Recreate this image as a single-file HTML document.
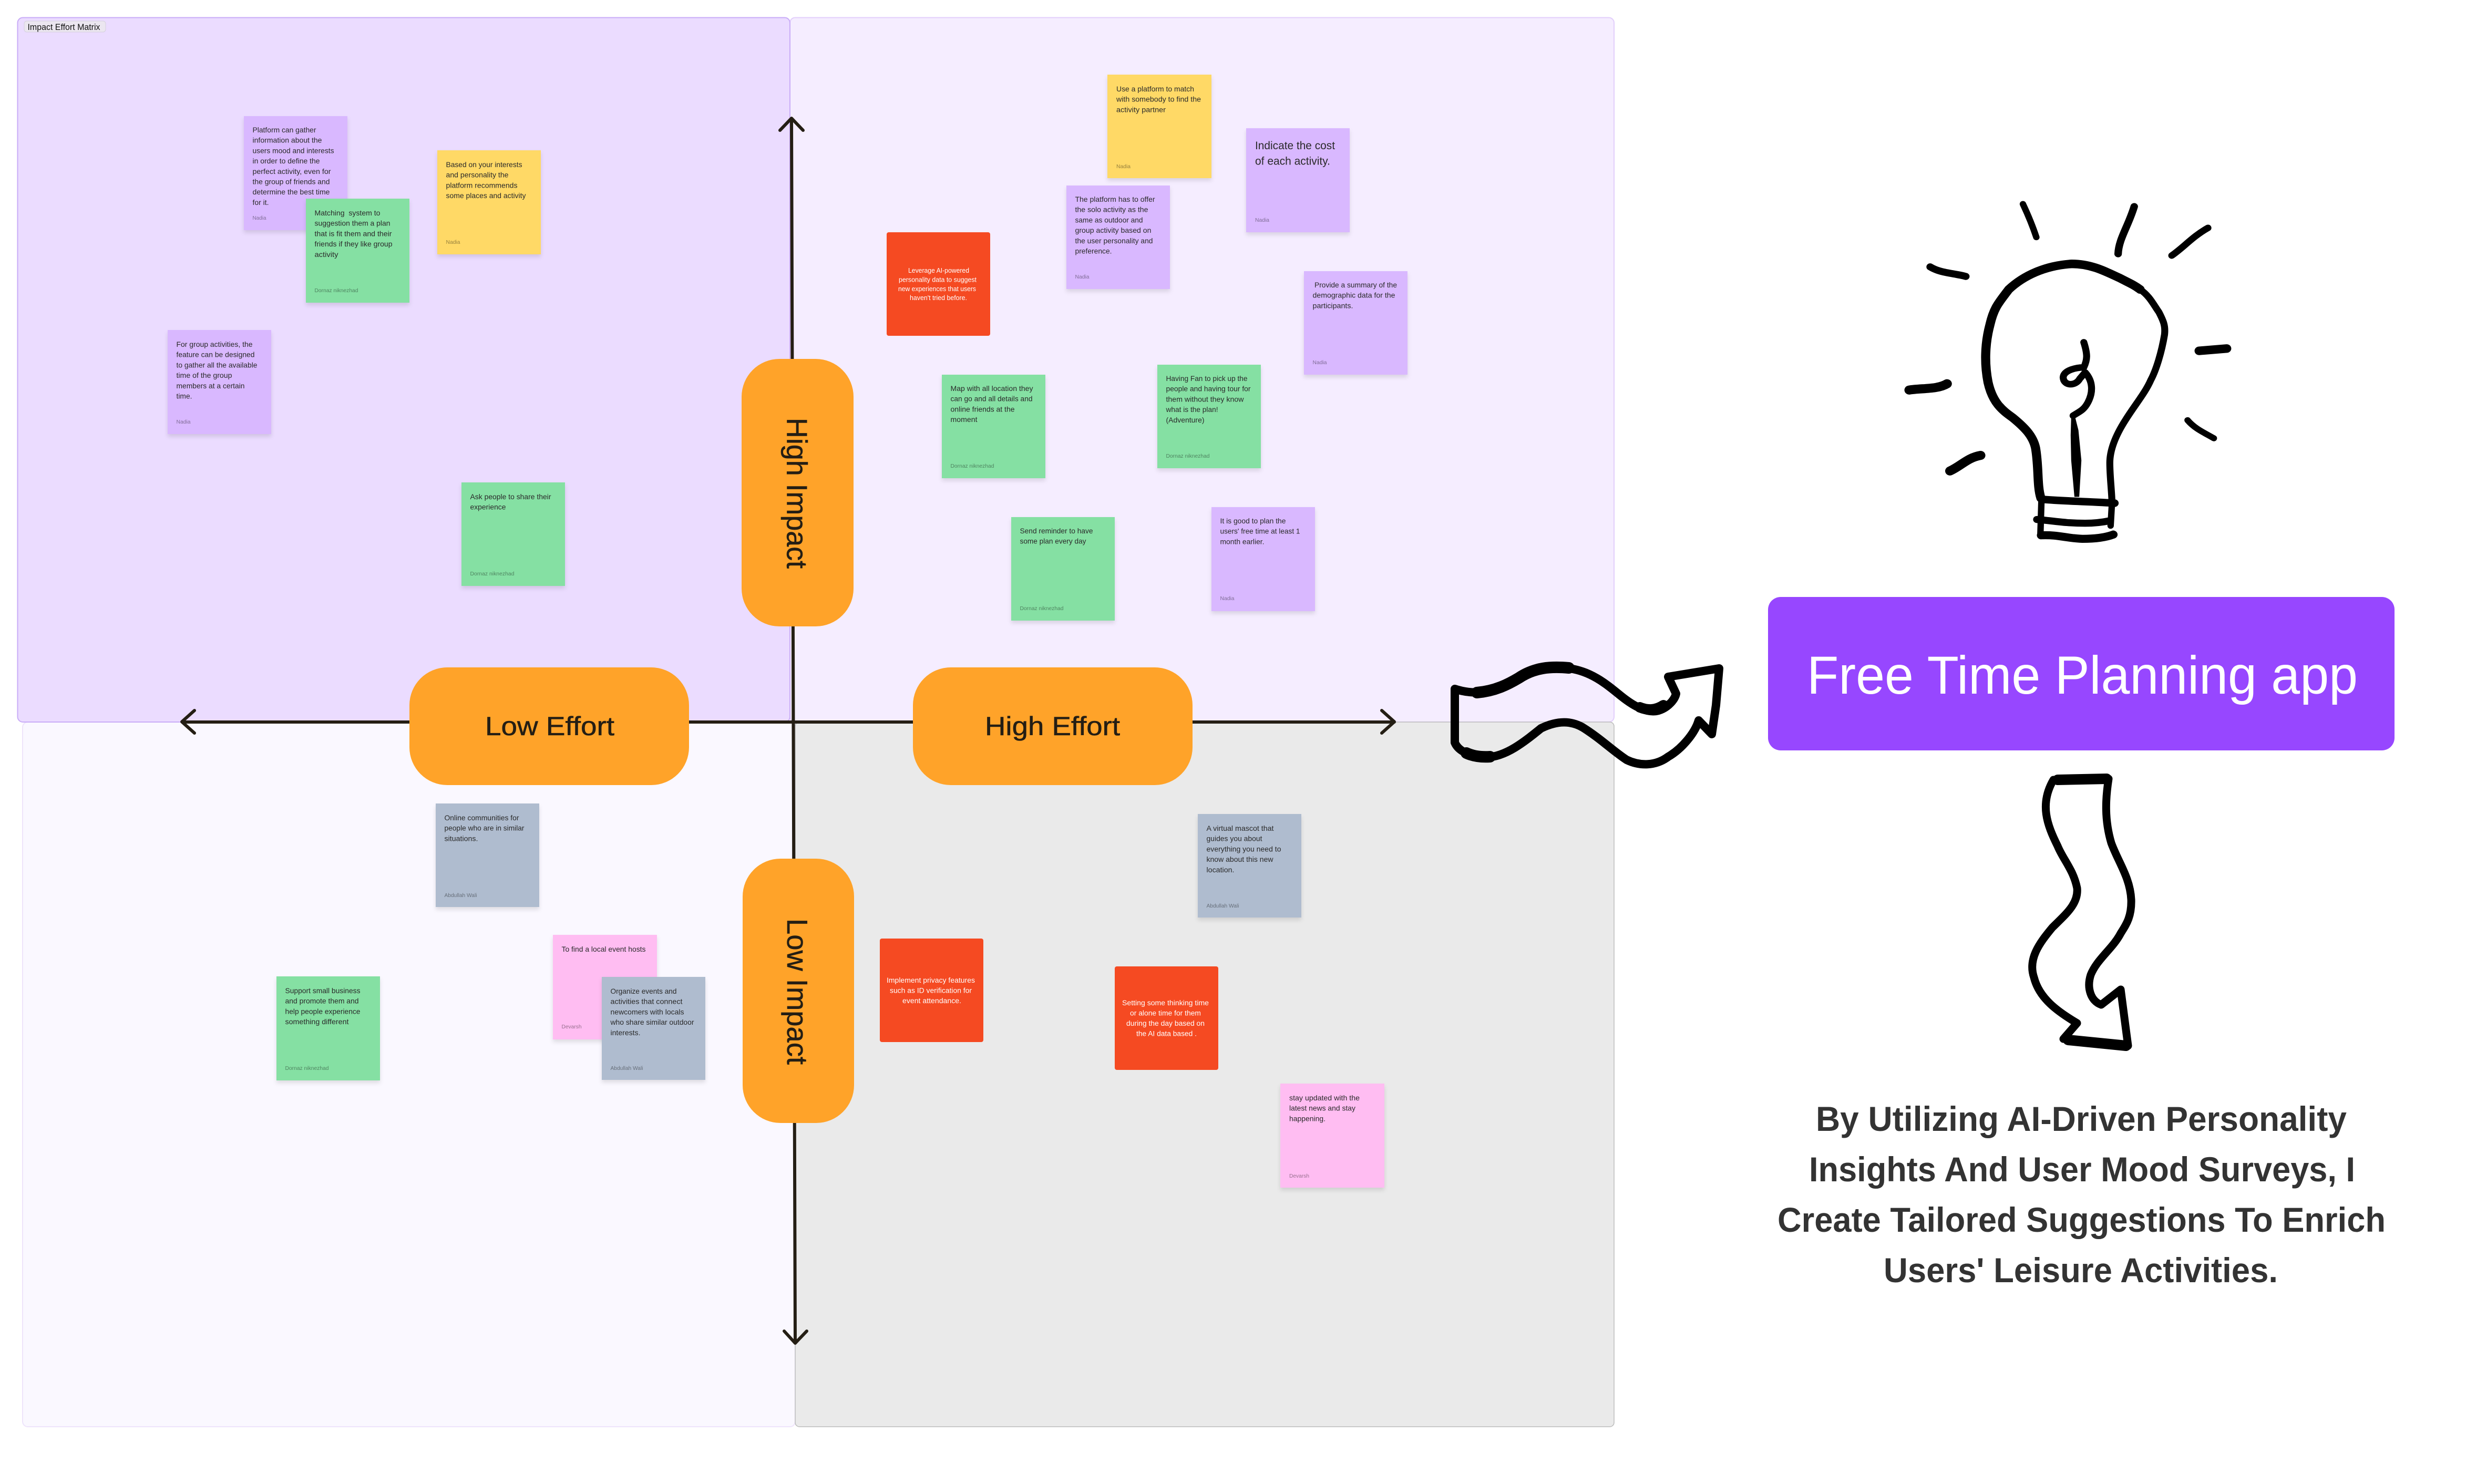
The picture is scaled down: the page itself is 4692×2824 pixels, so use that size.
<!DOCTYPE html>
<html><head><meta charset="utf-8"><style>
html,body{margin:0;padding:0;background:#fff}
svg{display:block}
text{font-family:"Liberation Sans",Arial,sans-serif}
.n{font-size:14px;fill:#2a2a2a}
.a{font-size:10.5px;fill:#000;fill-opacity:.42}
.c{font-size:12.5px;fill:#fff}
.s{filter:drop-shadow(0 5px 4px rgba(0,0,0,.11))}
.p{fill:#ffa329}
.l{font-size:50px;fill:#241e14;stroke:#241e14;stroke-width:.6px}
.h{fill:none;stroke:#000;stroke-linecap:round;stroke-linejoin:round}
.b{font-size:66px;font-weight:700;fill:#333}
</style></head><body>
<svg xmlns="http://www.w3.org/2000/svg" width="4692" height="2824" viewBox="0 0 4692 2824">
<rect width="4692" height="2824" fill="#fff"/>
<rect x="1503" y="33.5" width="1568" height="1340.5" rx="10" fill="#f5edff" stroke="#e2cffb" stroke-width="2"/>
<rect x="43" y="1374" width="1470" height="1341" rx="10" fill="#faf8ff" stroke="#eee4fb" stroke-width="2"/>
<rect x="1513" y="1374" width="1558" height="1341" rx="8" fill="#eaeaea" stroke="#bcbcbc" stroke-width="1.5"/>
<rect x="33.500" y="33.500" width="1469.500" height="1340.500" rx="10" fill="#ebdcff" stroke="#c9acf7" stroke-width="2"/>
<rect x="46" y="40" width="155" height="21" rx="5" fill="#ebe6f0" stroke="#d5d0dd"/>
<text x="52.500" y="57" font-size="17" fill="#111" textLength="138" lengthAdjust="spacingAndGlyphs">Impact Effort Matrix</text>

<!-- axes -->
<g fill="none" stroke="#241e14" stroke-width="6" stroke-linecap="round" stroke-linejoin="round">
<path d="M347,1374H2653M370,1352L346,1373.500L370,1395M2629,1352L2653,1373.500L2629,1395"/>
<path d="M1506,225L1513,2555M1484,248L1506,225L1528,248M1492,2533L1513,2556L1535,2533"/>
</g>

<!-- pills -->
<rect class="p" x="1411" y="683" width="213" height="509" rx="72"/>
<rect class="p" x="1413" y="1634" width="212" height="503" rx="72"/>
<rect class="p" x="779" y="1270" width="532" height="224" rx="72"/>
<rect class="p" x="1737" y="1270" width="532" height="224" rx="72"/>
<text class="l" x="923" y="1399" textLength="246" lengthAdjust="spacingAndGlyphs">Low Effort</text>
<text class="l" x="1874" y="1399" textLength="257" lengthAdjust="spacingAndGlyphs">High Effort</text>
<text class="l" style="font-size:55px" transform="translate(1497.500,795) rotate(90)" textLength="287" lengthAdjust="spacingAndGlyphs">High Impact</text>
<text class="l" style="font-size:55px" transform="translate(1498,1748) rotate(90)" textLength="278" lengthAdjust="spacingAndGlyphs">Low Impact</text>

<!-- TL notes -->
<g transform="translate(464,221)"><rect class="s" width="197" height="217" fill="#d9b8ff"/>
<text class="n" x="16.500" y="31" textLength="121" lengthAdjust="spacingAndGlyphs">Platform can gather</text>
<text class="n" x="16.500" y="50.700" textLength="132" lengthAdjust="spacingAndGlyphs">information about the</text>
<text class="n" x="16.500" y="70.400" textLength="155" lengthAdjust="spacingAndGlyphs">users mood and interests</text>
<text class="n" x="16.500" y="90.100" textLength="128" lengthAdjust="spacingAndGlyphs">in order to define the</text>
<text class="n" x="16.500" y="109.800" textLength="149" lengthAdjust="spacingAndGlyphs">perfect activity, even for</text>
<text class="n" x="16.500" y="129.500" textLength="147" lengthAdjust="spacingAndGlyphs">the group of friends and</text>
<text class="n" x="16.500" y="149.200" textLength="147" lengthAdjust="spacingAndGlyphs">determine the best time</text>
<text class="n" x="16.500" y="168.900" textLength="31" lengthAdjust="spacingAndGlyphs">for it.</text>
<text class="a" x="16.500" y="197" textLength="26" lengthAdjust="spacingAndGlyphs">Nadia</text></g>

<g transform="translate(582,378)"><rect class="s" width="197" height="198" fill="#85e0a3"/>
<text class="n" x="16.500" y="32" textLength="125" lengthAdjust="spacingAndGlyphs" xml:space="preserve">Matching  system to</text>
<text class="n" x="16.500" y="51.700" textLength="144" lengthAdjust="spacingAndGlyphs">suggestion them a plan</text>
<text class="n" x="16.500" y="71.400" textLength="147" lengthAdjust="spacingAndGlyphs">that is fit them and their</text>
<text class="n" x="16.500" y="91.100" textLength="148" lengthAdjust="spacingAndGlyphs">friends if they like group</text>
<text class="n" x="16.500" y="110.800" textLength="45" lengthAdjust="spacingAndGlyphs">activity</text>
<text class="a" x="16.500" y="178" textLength="83" lengthAdjust="spacingAndGlyphs">Dornaz niknezhad</text></g>

<g transform="translate(832,286)"><rect class="s" width="197" height="198" fill="#ffd966"/>
<text class="n" x="16.500" y="32" textLength="145" lengthAdjust="spacingAndGlyphs">Based on your interests</text>
<text class="n" x="16.500" y="51.700" textLength="119" lengthAdjust="spacingAndGlyphs">and personality the</text>
<text class="n" x="16.500" y="71.400" textLength="136" lengthAdjust="spacingAndGlyphs">platform recommends</text>
<text class="n" x="16.500" y="91.100" textLength="152" lengthAdjust="spacingAndGlyphs">some places and activity</text>
<text class="a" x="16.500" y="178" textLength="27" lengthAdjust="spacingAndGlyphs">Nadia</text></g>

<g transform="translate(319,628)"><rect class="s" width="197" height="198" fill="#d9b8ff"/>
<text class="n" x="16.500" y="32" textLength="145" lengthAdjust="spacingAndGlyphs">For group activities, the</text>
<text class="n" x="16.500" y="51.700" textLength="149" lengthAdjust="spacingAndGlyphs">feature can be designed</text>
<text class="n" x="16.500" y="71.400" textLength="154" lengthAdjust="spacingAndGlyphs">to gather all the available</text>
<text class="n" x="16.500" y="91.100" textLength="106" lengthAdjust="spacingAndGlyphs">time of the group</text>
<text class="n" x="16.500" y="110.800" textLength="130" lengthAdjust="spacingAndGlyphs">members at a certain</text>
<text class="n" x="16.500" y="130.500" textLength="30" lengthAdjust="spacingAndGlyphs">time.</text>
<text class="a" x="16.500" y="178" textLength="27" lengthAdjust="spacingAndGlyphs">Nadia</text></g>

<g transform="translate(878,918)"><rect class="s" width="197" height="197" fill="#85e0a3"/>
<text class="n" x="16.500" y="32" textLength="154" lengthAdjust="spacingAndGlyphs">Ask people to share their</text>
<text class="n" x="16.500" y="51.700" textLength="68" lengthAdjust="spacingAndGlyphs">experience</text>
<text class="a" x="16.500" y="177" textLength="84" lengthAdjust="spacingAndGlyphs">Dornaz niknezhad</text></g>

<!-- TR notes -->
<g transform="translate(2107,142)"><rect class="s" width="198" height="197" fill="#ffd966"/>
<text class="n" x="17" y="32" textLength="148" lengthAdjust="spacingAndGlyphs">Use a platform to match</text>
<text class="n" x="17" y="51.700" textLength="161" lengthAdjust="spacingAndGlyphs">with somebody to find the</text>
<text class="n" x="17" y="71.400" textLength="94" lengthAdjust="spacingAndGlyphs">activity partner</text>
<text class="a" x="17" y="178" textLength="27" lengthAdjust="spacingAndGlyphs">Nadia</text></g>

<g transform="translate(2371,244)"><rect class="s" width="197" height="198" fill="#d9b8ff"/>
<text class="n" style="font-size:21px" x="17" y="40" textLength="152" lengthAdjust="spacingAndGlyphs">Indicate the cost</text>
<text class="n" style="font-size:21px" x="17" y="69.300" textLength="143" lengthAdjust="spacingAndGlyphs">of each activity.</text>
<text class="a" x="17" y="178" textLength="27" lengthAdjust="spacingAndGlyphs">Nadia</text></g>

<g transform="translate(2029,353)"><rect class="s" width="197" height="197" fill="#d9b8ff"/>
<text class="n" x="16.500" y="31" textLength="152" lengthAdjust="spacingAndGlyphs">The platform has to offer</text>
<text class="n" x="16.500" y="50.700" textLength="139" lengthAdjust="spacingAndGlyphs">the solo activity as the</text>
<text class="n" x="16.500" y="70.400" textLength="129" lengthAdjust="spacingAndGlyphs">same as outdoor and</text>
<text class="n" x="16.500" y="90.100" textLength="145" lengthAdjust="spacingAndGlyphs">group activity based on</text>
<text class="n" x="16.500" y="109.800" textLength="148" lengthAdjust="spacingAndGlyphs">the user personality and</text>
<text class="n" x="16.500" y="129.500" textLength="70" lengthAdjust="spacingAndGlyphs">preference.</text>
<text class="a" x="16.500" y="177" textLength="27" lengthAdjust="spacingAndGlyphs">Nadia</text></g>

<g transform="translate(1687,442)"><rect width="197" height="197" rx="4" fill="#f54a22"/>
<text class="c" x="41" y="77" textLength="116" lengthAdjust="spacingAndGlyphs">Leverage AI-powered</text>
<text class="c" x="23" y="94.500" textLength="148" lengthAdjust="spacingAndGlyphs">personality data to suggest</text>
<text class="c" x="22" y="112" textLength="148" lengthAdjust="spacingAndGlyphs">new experiences that users</text>
<text class="c" x="44" y="129" textLength="109" lengthAdjust="spacingAndGlyphs">haven't tried before.</text></g>

<g transform="translate(2481,516)"><rect class="s" width="197" height="197" fill="#d9b8ff"/>
<text class="n" x="20" y="31" textLength="157" lengthAdjust="spacingAndGlyphs">Provide a summary of the</text>
<text class="n" x="16.500" y="50.700" textLength="157" lengthAdjust="spacingAndGlyphs">demographic data for the</text>
<text class="n" x="16.500" y="70.400" textLength="77" lengthAdjust="spacingAndGlyphs">participants.</text>
<text class="a" x="16.500" y="177" textLength="27" lengthAdjust="spacingAndGlyphs">Nadia</text></g>

<g transform="translate(1792,713)"><rect class="s" width="197" height="197" fill="#85e0a3"/>
<text class="n" x="16.500" y="31" textLength="157" lengthAdjust="spacingAndGlyphs">Map with all location they</text>
<text class="n" x="16.500" y="50.700" textLength="156" lengthAdjust="spacingAndGlyphs">can go and all details and</text>
<text class="n" x="16.500" y="70.400" textLength="122" lengthAdjust="spacingAndGlyphs">online friends at the</text>
<text class="n" x="16.500" y="90.100" textLength="51" lengthAdjust="spacingAndGlyphs">moment</text>
<text class="a" x="16.500" y="177" textLength="83" lengthAdjust="spacingAndGlyphs">Dornaz niknezhad</text></g>

<g transform="translate(2202,694)"><rect class="s" width="197" height="197" fill="#85e0a3"/>
<text class="n" x="16.500" y="31" textLength="155" lengthAdjust="spacingAndGlyphs">Having Fan to pick up the</text>
<text class="n" x="16.500" y="50.700" textLength="161" lengthAdjust="spacingAndGlyphs">people and having tour for</text>
<text class="n" x="16.500" y="70.400" textLength="148" lengthAdjust="spacingAndGlyphs">them without they know</text>
<text class="n" x="16.500" y="90.100" textLength="99" lengthAdjust="spacingAndGlyphs">what is the plan!</text>
<text class="n" x="16.500" y="109.800" textLength="73" lengthAdjust="spacingAndGlyphs">(Adventure)</text>
<text class="a" x="16.500" y="177" textLength="83" lengthAdjust="spacingAndGlyphs">Dornaz niknezhad</text></g>

<g transform="translate(1924,984)"><rect class="s" width="197" height="197" fill="#85e0a3"/>
<text class="n" x="16.500" y="31" textLength="139" lengthAdjust="spacingAndGlyphs">Send reminder to have</text>
<text class="n" x="16.500" y="50.700" textLength="126" lengthAdjust="spacingAndGlyphs">some plan every day</text>
<text class="a" x="16.500" y="177" textLength="83" lengthAdjust="spacingAndGlyphs">Dornaz niknezhad</text></g>

<g transform="translate(2305,965)"><rect class="s" width="197" height="198" fill="#d9b8ff"/>
<text class="n" x="16.500" y="31" textLength="125" lengthAdjust="spacingAndGlyphs">It is good to plan the</text>
<text class="n" x="16.500" y="50.700" textLength="152" lengthAdjust="spacingAndGlyphs">users' free time at least 1</text>
<text class="n" x="16.500" y="70.400" textLength="84" lengthAdjust="spacingAndGlyphs">month earlier.</text>
<text class="a" x="16.500" y="177" textLength="27" lengthAdjust="spacingAndGlyphs">Nadia</text></g>

<!-- BL notes -->
<g transform="translate(829,1529)"><rect class="s" width="197" height="197" fill="#afbccf"/>
<text class="n" x="16.500" y="32" textLength="142" lengthAdjust="spacingAndGlyphs">Online communities for</text>
<text class="n" x="16.500" y="51.700" textLength="152" lengthAdjust="spacingAndGlyphs">people who are in similar</text>
<text class="n" x="16.500" y="71.400" textLength="64" lengthAdjust="spacingAndGlyphs">situations.</text>
<text class="a" x="16.500" y="178" textLength="62" lengthAdjust="spacingAndGlyphs">Abdullah Wali</text></g>

<g transform="translate(1052,1779)"><rect class="s" width="198" height="199" fill="#ffbdf2"/>
<text class="n" x="16.500" y="32" textLength="160" lengthAdjust="spacingAndGlyphs">To find a local event hosts</text>
<text class="a" x="16.500" y="178" textLength="38" lengthAdjust="spacingAndGlyphs">Devarsh</text></g>

<g transform="translate(1145,1859)"><rect class="s" width="197" height="196" fill="#afbccf"/>
<text class="n" x="16.500" y="32" textLength="126" lengthAdjust="spacingAndGlyphs">Organize events and</text>
<text class="n" x="16.500" y="51.700" textLength="137" lengthAdjust="spacingAndGlyphs">activities that connect</text>
<text class="n" x="16.500" y="71.400" textLength="140" lengthAdjust="spacingAndGlyphs">newcomers with locals</text>
<text class="n" x="16.500" y="91.100" textLength="159" lengthAdjust="spacingAndGlyphs">who share similar outdoor</text>
<text class="n" x="16.500" y="110.800" textLength="57" lengthAdjust="spacingAndGlyphs">interests.</text>
<text class="a" x="16.500" y="177" textLength="62" lengthAdjust="spacingAndGlyphs">Abdullah Wali</text></g>

<g transform="translate(526,1858)"><rect class="s" width="197" height="198" fill="#85e0a3"/>
<text class="n" x="16.500" y="32" textLength="143" lengthAdjust="spacingAndGlyphs">Support small business</text>
<text class="n" x="16.500" y="51.700" textLength="140" lengthAdjust="spacingAndGlyphs">and promote them and</text>
<text class="n" x="16.500" y="71.400" textLength="143" lengthAdjust="spacingAndGlyphs">help people experience</text>
<text class="n" x="16.500" y="91.100" textLength="121" lengthAdjust="spacingAndGlyphs">something different</text>
<text class="a" x="16.500" y="178" textLength="83" lengthAdjust="spacingAndGlyphs">Dornaz niknezhad</text></g>

<!-- BR notes -->
<g transform="translate(2279,1549)"><rect class="s" width="197" height="197" fill="#afbccf"/>
<text class="n" x="16.500" y="32" textLength="128" lengthAdjust="spacingAndGlyphs">A virtual mascot that</text>
<text class="n" x="16.500" y="51.700" textLength="106" lengthAdjust="spacingAndGlyphs">guides you about</text>
<text class="n" x="16.500" y="71.400" textLength="142" lengthAdjust="spacingAndGlyphs">everything you need to</text>
<text class="n" x="16.500" y="91.100" textLength="127" lengthAdjust="spacingAndGlyphs">know about this new</text>
<text class="n" x="16.500" y="110.800" textLength="53" lengthAdjust="spacingAndGlyphs">location.</text>
<text class="a" x="16.500" y="178" textLength="62" lengthAdjust="spacingAndGlyphs">Abdullah Wali</text></g>

<g transform="translate(1674,1786)"><rect width="197" height="197" rx="4" fill="#f54a22"/>
<text class="c" style="font-size:13.500px" x="13" y="84" textLength="168" lengthAdjust="spacingAndGlyphs">Implement privacy features</text>
<text class="c" style="font-size:13.500px" x="19" y="103.500" textLength="156" lengthAdjust="spacingAndGlyphs">such as ID verification for</text>
<text class="c" style="font-size:13.500px" x="43" y="123" textLength="112" lengthAdjust="spacingAndGlyphs">event attendance.</text></g>

<g transform="translate(2121,1839)"><rect width="197" height="197" rx="4" fill="#f54a22"/>
<text class="c" style="font-size:13.500px" x="14" y="74" textLength="165" lengthAdjust="spacingAndGlyphs">Setting some thinking time</text>
<text class="c" style="font-size:13.500px" x="29" y="93.500" textLength="135" lengthAdjust="spacingAndGlyphs">or alone time for them</text>
<text class="c" style="font-size:13.500px" x="22" y="113" textLength="149" lengthAdjust="spacingAndGlyphs">during the day based on</text>
<text class="c" style="font-size:13.500px" x="41" y="132.500" textLength="115" lengthAdjust="spacingAndGlyphs">the AI data based .</text></g>

<g transform="translate(2436,2062)"><rect class="s" width="198" height="198" fill="#ffbdf2"/>
<text class="n" x="17" y="32" textLength="134" lengthAdjust="spacingAndGlyphs">stay updated with the</text>
<text class="n" x="17" y="51.700" textLength="126" lengthAdjust="spacingAndGlyphs">latest news and stay</text>
<text class="n" x="17" y="71.400" textLength="69" lengthAdjust="spacingAndGlyphs">happening.</text>
<text class="a" x="17" y="179" textLength="38" lengthAdjust="spacingAndGlyphs">Devarsh</text></g>

<!-- Right column -->
<rect x="3364" y="1136" width="1192" height="292" rx="24" fill="#9747ff"/>
<text x="3438" y="1320" font-size="102" fill="#fff" textLength="1048" lengthAdjust="spacingAndGlyphs">Free Time Planning app</text>
<text class="b" x="3455" y="2152" textLength="1010" lengthAdjust="spacingAndGlyphs">By Utilizing AI-Driven Personality</text>
<text class="b" x="3442" y="2248" textLength="1039" lengthAdjust="spacingAndGlyphs">Insights And User Mood Surveys, I</text>
<text class="b" x="3382" y="2344" textLength="1157" lengthAdjust="spacingAndGlyphs">Create Tailored Suggestions To Enrich</text>
<text class="b" x="3584" y="2440" textLength="750" lengthAdjust="spacingAndGlyphs">Users' Leisure Activities.</text>

<!-- hand arrows -->
<path class="h" stroke-width="16" d="M2768,1311 C2810,1325 2850,1315 2883,1295 C2920,1270 2950,1268 2986,1272 C3030,1278 3060,1305 3085,1325 C3110,1345 3135,1358 3156,1352 C3175,1346 3187,1330 3189,1320 L3174,1288 L3271,1272 L3265,1342 L3257,1397 L3232,1371 C3225,1395 3200,1425 3174,1440 C3150,1458 3120,1458 3095,1446 C3070,1430 3045,1405 3011,1384 C2990,1372 2965,1370 2932,1386 C2900,1412 2865,1440 2829,1441 C2800,1441 2775,1430 2768,1413 Z"/>
<path class="h" stroke-width="22" d="M2810,1318 C2845,1315 2870,1302 2890,1290 C2920,1270 2950,1268 2985,1271"/>
<path class="h" stroke-width="20" d="M3120,1346 C3135,1352 3150,1352 3165,1342"/>
<path class="h" stroke-width="22" d="M2790,1433 C2805,1440 2820,1441 2835,1440"/>
<path class="h" stroke-width="15" d="M3907,1484 L4012,1482 C4006,1520 4004,1560 4017,1604 C4030,1640 4053,1670 4055,1712 C4056,1745 4045,1760 4035,1776 C4020,1805 3990,1825 3978,1855 C3970,1880 3978,1905 3998,1912 L4035,1883 L4049,1990 L3926,1977 L3952,1947 C3915,1925 3880,1900 3870,1860 C3858,1825 3880,1795 3905,1765 C3930,1740 3955,1720 3952,1690 C3945,1655 3925,1635 3915,1610 C3895,1570 3880,1530 3907,1484 Z"/>
<path class="h" stroke-width="20" d="M3915,1484 L4008,1482M3935,1979 L4045,1990"/>

<!-- bulb -->
<g transform="translate(3600,350) scale(.5102,.4783)">
<path class="h" stroke-width="34" d="M555,1250 C540,1200 548,1130 535,1050 C525,1000 490,965 450,930 C410,900 375,870 358,790 C345,720 345,640 365,560 C380,490 400,470 435,420 C490,365 570,325 670,318 C740,318 790,345 850,375 C880,392 900,400 925,420"/>
<path class="h" stroke-width="26" d="M925,420 C960,445 975,480 995,510 C1012,545 1020,565 1016,600 C1005,670 985,740 965,780 C945,830 905,880 870,940 C840,990 812,1050 812,1110 C812,1160 818,1210 820,1262"/>
<path class="h" stroke-width="30" d="M560,1255 C640,1262 700,1262 830,1270"/>
<path class="h" stroke-width="28" d="M540,1335 C600,1340 640,1350 720,1350 C760,1350 790,1345 812,1340"/>
<path class="h" stroke-width="32" d="M556,1398 C620,1395 650,1410 710,1412 C760,1412 800,1405 825,1395"/>
<path class="h" stroke-width="24" d="M557,1260 L553,1400M820,1270 L815,1360"/>
<path fill="#000" d="M668,925 L682,925 L695,980 L706,1100 L698,1245 L680,1245 L668,1100 L666,1000 Z"/>
<path class="h" stroke-width="26" d="M715,630 C730,680 728,700 715,730 C690,730 640,740 638,770 C640,805 685,805 700,775 L720,750 C750,785 750,830 730,870 C715,900 700,905 675,922"/>
<path class="h" stroke-width="24" d="M488,80 C510,130 525,170 538,212"/>
<path class="h" stroke-width="28" d="M903,90 C880,170 845,220 843,278"/>
<path class="h" stroke-width="26" d="M1178,175 C1120,210 1090,250 1043,285"/>
<path class="h" stroke-width="28" d="M142,330 C180,355 230,355 275,368"/>
<path class="h" stroke-width="34" d="M1145,664 L1248,655"/>
<path class="h" stroke-width="36" d="M64,820 C110,812 170,818 205,795"/>
<path class="h" stroke-width="36" d="M216,1142 C260,1120 280,1090 330,1080"/>
<path class="h" stroke-width="24" d="M1102,940 C1130,975 1165,990 1200,1012"/>
</g>
</svg>
</body></html>
